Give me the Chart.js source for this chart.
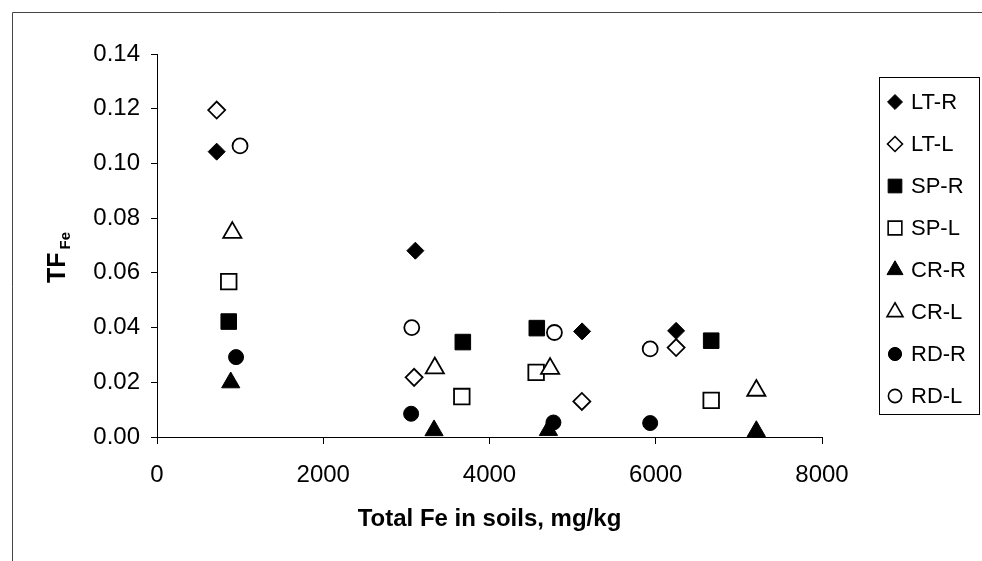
<!DOCTYPE html>
<html>
<head>
<meta charset="utf-8">
<title>TF Fe vs total Fe in soils</title>
<script src="https://cdn.jsdelivr.net/npm/chart.js@4.4.1/dist/chart.umd.min.js"></script>
<style>
  html, body { margin: 0; padding: 0; background: #fff; }
  #wrap { width: 982px; height: 561px; }
</style>
</head>
<body>
<div id="wrap"><canvas id="feChart" width="982" height="561"></canvas></div>
<script>
// ---------------- Data ----------------
const SERIES_LABELS = ["LT-R", "LT-L", "SP-R", "SP-L", "CR-R", "CR-L", "RD-R", "RD-L"];

// total Fe in soils, mg/kg
const ltRFe = [718, 3108, 5114, 6245];
const ltLFe = [718, 3093, 5111, 6245];
const spRFe = [863, 3679, 4569, 6667];
const spLFe = [863, 3667, 4561, 6667];
const crRFe = [887, 3333, 4709, 7210];
const crLFe = [906, 3342, 4729, 7210];
const rdRFe = [951, 3057, 4769, 5933];
const rdLFe = [999, 3065, 4781, 5933];

// transfer factor TF(Fe)
const ltRTf = [0.1043, 0.0681, 0.0386, 0.0388];
const ltLTf = [0.1195, 0.0218, 0.0130, 0.0327];
const spRTf = [0.0422, 0.0347, 0.0398, 0.0352];
const spLTf = [0.0568, 0.0148, 0.0236, 0.0134];
const crRTf = [0.0199, 0.0024, 0.0025, 0.0021];
const crLTf = [0.0747, 0.0252, 0.0250, 0.0170];
const rdRTf = [0.0292, 0.0085, 0.0053, 0.0051];
const rdLTf = [0.1064, 0.0400, 0.0382, 0.0322];

const X_TICKS = [0, 2000, 4000, 6000, 8000];
const Y_TICKS = [0, 0.02, 0.04, 0.06, 0.08, 0.10, 0.12, 0.14];

// ---------------- Helpers ----------------
const FONT = "'Liberation Sans', Arial, Helvetica, sans-serif";

function pts(xs, ys) {
  return xs.map((x, i) => ({ x, y: ys[i] }));
}

// style per series: marker shape, radius, filled or open
const MARKERS = [
  { style: "rectRot",  r: 8.5,  filled: true },
  { style: "rectRot",  r: 8.5,  filled: false },
  { style: "rect",     r: 11,   filled: true },
  { style: "rect",     r: 11,   filled: false },
  { style: "triangle", r: 10.5, filled: true },
  { style: "triangle", r: 10.5, filled: false },
  { style: "circle",   r: 7.5,  filled: true },
  { style: "circle",   r: 7.5,  filled: false },
];

const XS = [ltRFe, ltLFe, spRFe, spLFe, crRFe, crLFe, rdRFe, rdLFe];
const YS = [ltRTf, ltLTf, spRTf, spLTf, crRTf, crLTf, rdRTf, rdLTf];

const datasets = SERIES_LABELS.map((label, i) => {
  const m = MARKERS[i];
  return {
    label,
    data: pts(XS[i], YS[i]),
    pointStyle: m.style,
    pointRadius: m.r,
    pointHoverRadius: m.r,
    pointBackgroundColor: m.filled ? "#000" : "#fff",
    pointBorderColor: "#000",
    pointBorderWidth: m.filled ? 1 : 1.8,
    showLine: false,
    clip: false,
    order: SERIES_LABELS.length - i, // later series drawn on top, like Excel
  };
});

// small marker painter for the hand-drawn legend
function drawMarker(ctx, style, x, y, r) {
  ctx.beginPath();
  if (style === "circle") {
    ctx.arc(x, y, r, 0, Math.PI * 2);
  } else if (style === "rect") {
    const h = r * Math.SQRT1_2;
    ctx.rect(x - h, y - h, 2 * h, 2 * h);
  } else if (style === "rectRot") {
    ctx.moveTo(x, y - r); ctx.lineTo(x + r, y); ctx.lineTo(x, y + r); ctx.lineTo(x - r, y);
    ctx.closePath();
  } else if (style === "triangle") {
    for (let k = 0; k < 3; k++) {
      const a = k * 2 * Math.PI / 3;
      const px = x + Math.sin(a) * r, py = y - Math.cos(a) * r;
      k ? ctx.lineTo(px, py) : ctx.moveTo(px, py);
    }
    ctx.closePath();
  }
  ctx.fill();
  ctx.stroke();
}

const decorPlugin = {
  id: "decor",
  beforeDraw(chart) {
    const ctx = chart.ctx;
    ctx.save();
    ctx.fillStyle = "#fff";
    ctx.fillRect(0, 0, chart.width, chart.height);
    // frame of the scanned figure (top and left edges only)
    ctx.strokeStyle = "#444";
    ctx.lineWidth = 1;
    ctx.beginPath();
    ctx.moveTo(12.5, chart.height);
    ctx.lineTo(12.5, 12.5);
    ctx.lineTo(chart.width, 12.5);
    ctx.stroke();
    ctx.restore();
  },
  afterDraw(chart) {
    const ctx = chart.ctx;
    ctx.save();

    // y-axis title: TF with subscript Fe
    ctx.translate(65, 283);
    ctx.rotate(-Math.PI / 2);
    ctx.fillStyle = "#000";
    ctx.textBaseline = "alphabetic";
    ctx.textAlign = "left";
    ctx.font = `bold 25px ${FONT}`;
    ctx.fillText("TF", 0, 0);
    const w = ctx.measureText("TF").width;
    ctx.font = `bold 15px ${FONT}`;
    ctx.fillText("Fe", w + 3, 5);
    ctx.restore();

    // legend box
    ctx.save();
    ctx.strokeStyle = "#000";
    ctx.lineWidth = 1;
    ctx.strokeRect(879.5, 77.5, 100, 337);
    ctx.font = `22px ${FONT}`;
    ctx.textBaseline = "middle";
    ctx.textAlign = "left";
    chart.data.datasets.forEach((ds, i) => {
      const m = MARKERS[i];
      const y = 102 + 42 * i;
      ctx.fillStyle = m.filled ? "#000" : "#fff";
      ctx.strokeStyle = "#000";
      ctx.lineWidth = m.filled ? 1 : 1.6;
      drawMarker(ctx, m.style, 895, y, m.r * 0.88);
      ctx.fillStyle = "#000";
      ctx.fillText(ds.label, 911, y + 1);
    });
    ctx.restore();
  },
};

new Chart(document.getElementById("feChart"), {
  type: "scatter",
  data: { datasets },
  plugins: [decorPlugin],
  options: {
    responsive: false,
    animation: false,
    events: [],
    layout: { padding: { top: 54, right: 160, bottom: 0, left: 0 } },
    plugins: { legend: { display: false }, tooltip: { enabled: false } },
    scales: {
      x: {
        type: "linear",
        min: X_TICKS[0],
        max: X_TICKS[X_TICKS.length - 1],
        afterBuildTicks: (s) => { s.ticks = X_TICKS.map(v => ({ value: v })); },
        afterFit: (s) => { s.height = 124; },
        ticks: {
          color: "#000",
          font: { family: FONT, size: 24 },
          padding: 17,
          callback: (v) => String(v),
        },
        grid: { drawOnChartArea: false, drawTicks: true, tickLength: 7, color: "#000" },
        border: { color: "#000", width: 1 },
        title: {
          display: true,
          text: "Total Fe in soils, mg/kg",
          color: "#000",
          font: { family: FONT, size: 24, weight: "bold" },
          padding: { top: 0, bottom: 27 },
        },
      },
      y: {
        type: "linear",
        min: Y_TICKS[0],
        max: Y_TICKS[Y_TICKS.length - 1],
        afterBuildTicks: (s) => { s.ticks = Y_TICKS.map(v => ({ value: v })); },
        afterFit: (s) => { s.width = 157; },
        ticks: {
          color: "#000",
          font: { family: FONT, size: 24 },
          padding: 11,
          callback: (v) => Number(v).toFixed(2),
        },
        grid: { drawOnChartArea: false, drawTicks: true, tickLength: 6, color: "#000" },
        border: { color: "#000", width: 1 },
      },
    },
  },
});
</script>
</body>
</html>
